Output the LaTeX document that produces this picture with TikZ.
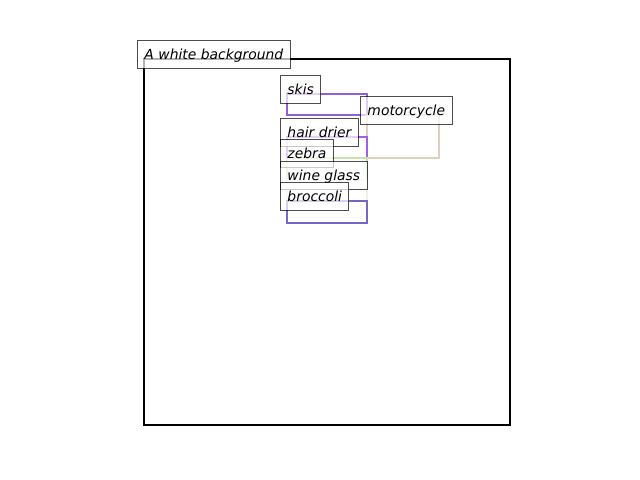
\documentclass[tikz,border=0pt]{standalone}
\usepackage{fontspec}
\setmainfont{DejaVu Sans}
\definecolor{skiscol}{HTML}{9260D2}
\definecolor{driercol}{HTML}{A45EE6}
\definecolor{motocol}{HTML}{DAD2BC}
\definecolor{zebracol}{HTML}{C6E4AA}
\definecolor{winecol}{HTML}{EEF4E2}
\definecolor{brocccol}{HTML}{7666C6}
\tikzset{
  tag/.style={anchor=base west,xshift=-5pt,draw=black,draw opacity=0.7,fill=white,fill opacity=0.7,
    text opacity=1,inner xsep=5pt,inner ysep=0pt,text height=13pt,text depth=6.5pt,
    font=\itshape,line width=0.7pt},
  obj/.style={line width=1.5pt}
}
\begin{document}
\begin{tikzpicture}[x=0.72pt,y=-0.72pt]
            \useasboundingbox (0,0) rectangle (640,480);
            \draw[line width=1.4pt] (144,59) rectangle (510,425);

            \draw[obj,skiscol]  (287,94)  rectangle (367,115);
            \draw[obj,motocol]  (367,115) rectangle (439,158);
            \draw[obj,driercol] (287,137) rectangle (367,158);
            \draw[obj,zebracol] (287,158) rectangle (367,201);
            \draw[obj,winecol]  (287,180) rectangle (367,201);
            \draw[obj,brocccol] (287,201) rectangle (367,223);

            \node[tag] (bg)    at (144,59)  {A white background};
            \node[tag] (skis)  at (287,94)  {skis};
            \node[tag] (moto)  at (367,115) {motorcycle};
            \node[tag] (drier) at (287,137) {hair drier};
            \node[tag] (zebra) at (287,158) {zebra};
            \node[tag] (wine)  at (287,180) {wine glass};
            \node[tag] (brocc) at (287,201) {broccoli};
        \end{tikzpicture}
\end{document}
